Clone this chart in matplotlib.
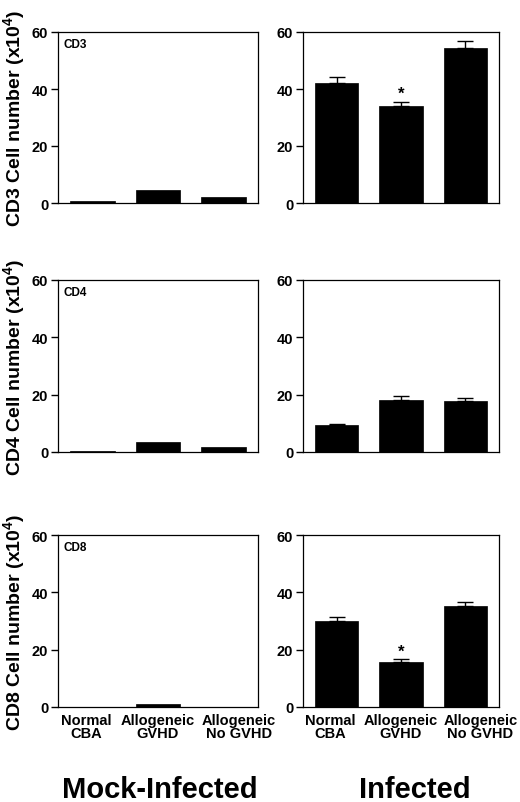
import matplotlib
matplotlib.use("Agg")
import matplotlib.pyplot as plt
import matplotlib.transforms as mtransforms

plt.rcParams['font.family'] = ['Liberation Sans', 'DejaVu Sans']
plt.rcParams['font.weight'] = 'bold'
plt.rcParams['mathtext.fontset'] = 'custom'
plt.rcParams['mathtext.rm'] = 'Liberation Sans:bold'
plt.rcParams['mathtext.bf'] = 'Liberation Sans:bold'

categories = ["Normal\nCBA", "Allogeneic\nGVHD", "Allogeneic\nNo GVHD"]
markers = ["CD3", "CD4", "CD8"]

mock_cd3 = [0.8, 4.6, 2.2]
mock_cd4 = [0.4, 3.4, 1.6]
mock_cd8 = [0.1, 1.2, 0.1]

inf_cd3 = [42.1, 34.0, 54.4]
inf_cd3_err = [2.2, 1.6, 2.4]
inf_cd4 = [9.4, 18.2, 17.7]
inf_cd4_err = [0.3, 1.2, 1.0]
inf_cd8 = [30.1, 15.7, 35.2]
inf_cd8_err = [1.3, 0.9, 1.6]

inf_signif = [[False, True, False], [False, False, False], [False, True, False]]

mock_vals = [mock_cd3, mock_cd4, mock_cd8]
inf_vals = [inf_cd3, inf_cd4, inf_cd8]
inf_errs = [inf_cd3_err, inf_cd4_err, inf_cd8_err]

group_titles = ["Mock-Infected", "Infected"]
yticks = [0, 20, 40, 60]

W, H = 520, 803
fig = plt.figure(figsize=(W / 100, H / 100), dpi=100)

rows = [(33, 204), (281, 453), (536, 708)]
cols = [(58, 258), (303, 499)]

x = list(range(len(categories)))
label_shift_px = [-6, 0, 15]

for r in range(3):
    top, bot = rows[r]
    for c in range(2):
        l, rr = cols[c]
        ax = fig.add_axes([l / W, 1 - bot / H, (rr - l) / W, (bot - top) / H])
        if c == 0:
            vals = mock_vals[r]
            ax.bar(x, vals, width=0.68, color='black', edgecolor='black', linewidth=0.5)
            ax.text(0.03, 0.965, markers[r], transform=ax.transAxes, ha='left', va='top',
                    fontsize=8.5, fontweight='bold')
        else:
            vals = inf_vals[r]
            errs = inf_errs[r]
            ax.bar(x, vals, width=0.68, color='black', edgecolor='black', linewidth=0.5)
            ax.errorbar(x, vals, yerr=[[0] * 3, errs], fmt='none', ecolor='black',
                        elinewidth=1.0, capsize=5.5, capthick=1.0)
            for i in range(3):
                if inf_signif[r][i]:
                    ax.annotate('*', (x[i], vals[i] + errs[i]), xytext=(0, 0.5),
                                textcoords='offset points', ha='center', va='bottom',
                                fontsize=12, fontweight='bold')
        ax.set_xlim(-0.52, 2.52)
        ax.set_ylim(0, 60)
        ax.set_yticks(yticks)
        ax.set_yticklabels([str(t) for t in yticks], fontsize=10.5, fontweight='bold')
        ax.tick_params(axis='y', direction='out', length=5, width=1, pad=2)
        ax.tick_params(axis='x', length=0, pad=4)
        for s in ax.spines.values():
            s.set_linewidth(0.9)
        if r == 2:
            ax.set_xticks(x)
            ax.set_xticklabels(categories, fontsize=10.5, fontweight='bold', linespacing=0.95)
            for lab, sh in zip(ax.get_xticklabels(), label_shift_px):
                lab.set_transform(lab.get_transform() +
                                  mtransforms.ScaledTranslation(sh / 100, 0, fig.dpi_scale_trans))
        else:
            ax.set_xticks([])
    yc = 1 - (top + bot) / 2 / H
    fig.text(15 / W, yc, markers[r] + r" Cell number (x10$^{\mathbf{4}}$)", rotation=90,
             ha='center', va='center', fontsize=14, fontweight='bold')

fig.text(160 / W, 1 - 790 / H, group_titles[0], ha='center', va='center',
         fontsize=21, fontweight='bold')
fig.text(415 / W, 1 - 790 / H, group_titles[1], ha='center', va='center',
         fontsize=21, fontweight='bold')

fig.savefig("out.png", dpi=100)
